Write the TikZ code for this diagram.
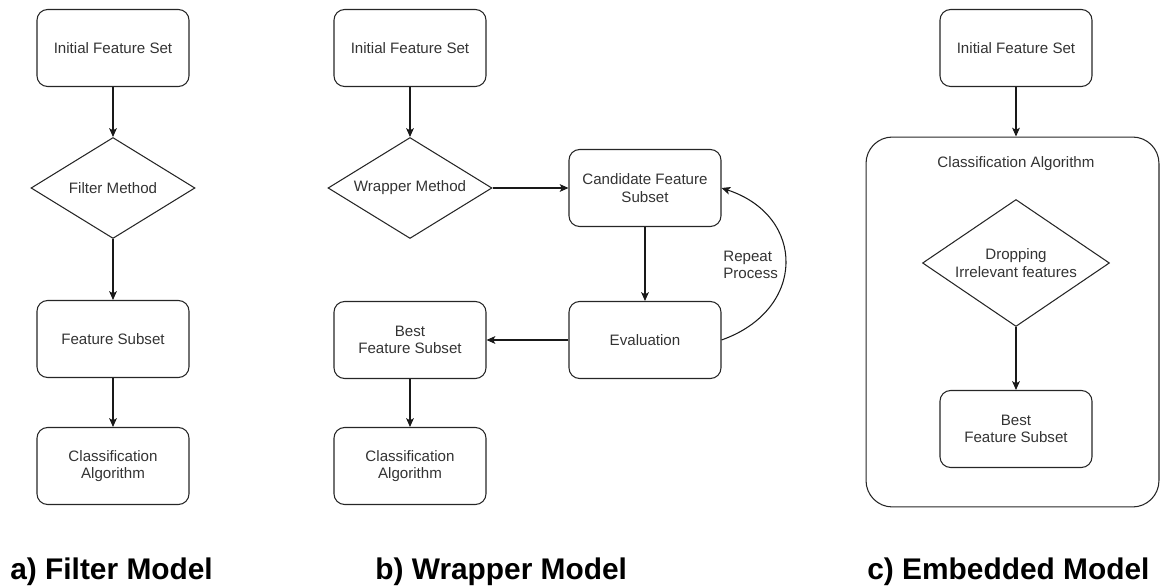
\documentclass[tikz,border=0pt]{standalone}
\usepackage{fontspec}
\setmainfont{Liberation Sans}
\usetikzlibrary{arrows.meta,shapes.geometric}

\begin{document}
\begin{tikzpicture}[
    x=0.02cm, y=-0.02cm,
    font=\fontsize{8.6pt}{9.8pt}\selectfont,
    text=black!80,
    box/.style={draw=black!85, line width=0.6pt, rounded corners=6pt, align=center, minimum width=3.04cm, minimum height=1.54cm, inner sep=2pt},
    dia/.style={draw=black!85, line width=0.6pt, diamond, aspect=1.6, inner sep=0pt, align=center, minimum width=3.28cm, minimum height=2.02cm},
    arr/.style={-{Stealth[length=5pt, width=4.4pt, inset=1.2pt]}, draw=black!90, line width=0.6pt},
    modelcap/.style={font=\fontsize{17pt}{20pt}\selectfont\bfseries, text=black, anchor=base west, inner sep=0pt},
  ]
    \useasboundingbox (0,0) rectangle (1161,587);

    % a) filter model
    \node[box] (fInit) at (113,48) {Initial Feature Set};
    \node[dia] (fMeth) at (113,188) {Filter Method};
    \node[box] (fSub) at (113,339) {Feature Subset};
    \node[box] (fCls) at (113,466) {Classification\\Algorithm};

    \draw[arr] (fInit) -- (fMeth);
    \draw[arr] (fMeth) -- (fSub);
    \draw[arr] (fSub) -- (fCls);

    % b) wrapper model
    \node[box] (wInit) at (410,48) {Initial Feature Set};
    \node[dia] (wMeth) at (410,188) {Wrapper Method};
    \node[box] (wCand) at (645,188) {Candidate Feature\\Subset};
    \node[box] (wEval) at (645,340) {Evaluation};
    \node[box] (wBest) at (410,340) {Best\\Feature Subset};
    \node[box] (wCls) at (410,466) {Classification\\Algorithm};
    \node[anchor=west, align=left, inner sep=0pt] (wRep) at (723,265) {Repeat\\Process};

    \draw[arr] (wInit) -- (wMeth);
    \draw[arr] (wMeth) -- (wCand);
    \draw[arr] (wCand) -- (wEval);
    \draw[arr] (wEval) -- (wBest);
    \draw[arr] (wBest) -- (wCls);
    \draw[arr] (wEval.east) .. controls +(85,-30) and +(85,28) .. (wCand.east);

    % c) embedded model
    \node[box] (eInit) at (1016,48) {Initial Feature Set};
    \node[draw=black!85, line width=0.6pt, rounded corners=15pt, minimum width=5.86cm, minimum height=7.4cm] (eCont) at (1012.5,322) {};
    \node (eLbl) at (1016,164) {Classification Algorithm};
    \node[dia, minimum width=3.74cm, minimum height=2.54cm] (eDrop) at (1016,263) {Dropping\\Irrelevant features};
    \node[box] (eBest) at (1016,429) {Best\\Feature Subset};

    \draw[arr] (eInit.south) -- (eInit.south |- eCont.north);
    \draw[arr] (eDrop) -- (eBest);

    % captions
    \node[modelcap] (capA) at (10,580) {a) Filter Model};
    \node[modelcap] (capB) at (375,580) {b) Wrapper Model};
    \node[modelcap] (capC) at (867,580) {c) Embedded Model};
  \end{tikzpicture}
\end{document}
